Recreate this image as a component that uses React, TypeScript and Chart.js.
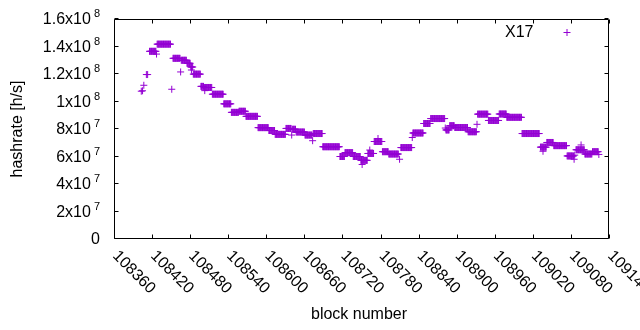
import React, { useEffect, useRef } from 'react';
import { Chart, registerables } from 'chart.js';

Chart.register(...registerables);

const PURPLE = '#9400d3';
const FONT = '"Liberation Sans", Arial, sans-serif';

// x axis tick values / labels
const xTickValues = [108360, 108420, 108480, 108540, 108600, 108660, 108720, 108780, 108840, 108900, 108960, 109020, 109080, 109140];
const xTickLabels = ['108360', '108420', '108480', '108540', '108600', '108660', '108720', '108780', '108840', '108900', '108960', '109020', '109080', '109140'];

// y axis tick values / labels (mantissa + superscript exponent)
const yTickValues = [0, 2e7, 4e7, 6e7, 8e7, 1e8, 1.2e8, 1.4e8, 1.6e8];
const yTickMantissa = ['0', '2x10', '4x10', '6x10', '8x10', '1x10', '1.2x10', '1.4x10', '1.6x10'];
const yTickExponent = ['', '7', '7', '7', '7', '8', '8', '8', '8'];

// runs of consecutive blocks with the same hashrate (values in units of 1e7 h/s)
const segStart = [108416, 108428, 108453, 108466, 108475, 108481, 108485, 108497, 108502, 108515, 108533, 108545, 108557, 108568, 108587, 108604, 108614, 108631, 108641, 108647, 108661, 108674, 108689, 108716, 108724, 108737, 108749, 108760, 108770, 108783, 108793, 108812, 108831, 108848, 108859, 108883, 108889, 108897, 108918, 108933, 108950, 108967, 108979, 109003, 109032, 109042, 109053, 109074, 109088, 109102, 109114];
const segEnd = [108426, 108449, 108464, 108474, 108480, 108484, 108496, 108501, 108514, 108532, 108544, 108556, 108567, 108586, 108603, 108613, 108630, 108639, 108646, 108660, 108672, 108688, 108715, 108723, 108736, 108748, 108759, 108769, 108782, 108792, 108808, 108829, 108847, 108858, 108881, 108888, 108896, 108917, 108931, 108949, 108966, 108978, 109002, 109030, 109041, 109052, 109073, 109084, 109101, 109113, 109123];
const segValue = [13.65, 14.17, 13.14, 13.0, 12.78, 12.51, 11.99, 11.1, 11.02, 10.53, 9.83, 9.21, 9.29, 8.92, 8.1, 7.89, 7.61, 8.04, 7.98, 7.78, 7.56, 7.67, 6.71, 6.0, 6.28, 6.0, 5.72, 6.22, 7.09, 6.35, 6.18, 6.65, 7.71, 8.4, 8.76, 7.93, 8.24, 8.11, 7.8, 9.08, 8.62, 9.09, 8.85, 7.67, 6.68, 7.02, 6.79, 6.04, 6.49, 6.18, 6.35];

// isolated blocks (values in units of 1e7 h/s)
const singleBlock = [108403, 108405, 108407, 108411, 108413, 108427, 108451, 108465, 108482, 108503, 108640, 108673, 108751, 108763, 108776, 108810, 108830, 108882, 108932, 109036, 109085, 109086, 109096, 109124];
const singleValue = [10.75, 10.78, 11.18, 11.96, 11.96, 13.45, 10.89, 12.15, 12.29, 10.79, 7.56, 7.15, 5.42, 6.47, 7.31, 5.8, 7.38, 8.07, 8.34, 6.38, 5.8, 6.1, 6.84, 6.15];

const seriesLabel = 'X17';
const xTitle = 'block number';
const yTitle = 'hashrate [h/s]';

export default function App() {
  const ref = useRef<HTMLCanvasElement>(null);

  useEffect(() => {
    if (!ref.current) return;
    const points: { x: number; y: number }[] = [];
    segStart.forEach((s, i) => {
      for (let b = s; b <= segEnd[i]; b++) points.push({ x: b, y: segValue[i] * 1e7 });
    });
    singleBlock.forEach((b, i) => points.push({ x: b, y: singleValue[i] * 1e7 }));

    const framePlugin = {
      id: 'gnuplotFrame',
      afterDraw(chart: any) {
        const ctx = chart.ctx as CanvasRenderingContext2D;
        const xs = chart.scales.x;
        const ys = chart.scales.y;
        const L = Math.round(chart.chartArea.left) + 0.5;
        const R = Math.round(chart.chartArea.right) - 0.5;
        const T = Math.round(chart.chartArea.top) + 0.5;
        const B = Math.round(chart.chartArea.bottom) - 0.5;
        ctx.save();
        ctx.strokeStyle = '#000';
        ctx.lineWidth = 1;
        ctx.beginPath();
        ctx.rect(L, T, R - L, B - T);
        ctx.stroke();
        const tl = 4;
        ctx.beginPath();
        xTickValues.forEach((v) => {
          const px = Math.round(xs.getPixelForValue(v)) + 0.5;
          ctx.moveTo(px, B); ctx.lineTo(px, B - tl);
          ctx.moveTo(px, T); ctx.lineTo(px, T + tl);
        });
        yTickValues.forEach((v) => {
          const py = Math.round(ys.getPixelForValue(v)) - 0.5;
          ctx.moveTo(L, py); ctx.lineTo(L + tl, py);
          ctx.moveTo(R, py); ctx.lineTo(R - tl, py);
        });
        ctx.stroke();

        ctx.fillStyle = '#000';
        // y tick labels
        yTickValues.forEach((v, i) => {
          const py = ys.getPixelForValue(v);
          const xr = 100;
          const exp = yTickExponent[i];
          let expW = 0;
          if (exp) {
            ctx.font = `11px ${FONT}`;
            expW = ctx.measureText(exp).width;
            ctx.textAlign = 'right';
            ctx.textBaseline = 'middle';
            ctx.fillText(exp, xr, py - 5);
            expW += 3;
          }
          ctx.font = `16px ${FONT}`;
          ctx.textAlign = 'right';
          ctx.textBaseline = 'middle';
          ctx.fillText(yTickMantissa[i], xr - expW, py + 1);
        });
        // x tick labels rotated
        xTickValues.forEach((v, i) => {
          const px = xs.getPixelForValue(v);
          ctx.save();
          ctx.translate(px + 1, B + 15);
          ctx.rotate(Math.PI / 4);
          ctx.font = `16px ${FONT}`;
          ctx.textAlign = 'left';
          ctx.textBaseline = 'middle';
          ctx.fillText(xTickLabels[i], 0, 0);
          ctx.restore();
        });
        // axis titles
        ctx.font = `16px ${FONT}`;
        ctx.textAlign = 'center';
        ctx.textBaseline = 'middle';
        ctx.fillText(xTitle, 359, 315);
        ctx.save();
        ctx.translate(18, 129);
        ctx.rotate(-Math.PI / 2);
        ctx.fillText(yTitle, 0, 0);
        ctx.restore();
        // legend
        ctx.textAlign = 'right';
        ctx.fillText(seriesLabel, 533.5, 32.5);
        ctx.strokeStyle = PURPLE;
        ctx.beginPath();
        ctx.moveTo(563.5, 32.5); ctx.lineTo(570.5, 32.5);
        ctx.moveTo(567, 29); ctx.lineTo(567, 36);
        ctx.stroke();
        ctx.restore();
      },
    };

    const chart = new Chart(ref.current, {
      type: 'scatter',
      data: {
        datasets: [
          {
            label: seriesLabel,
            data: points,
            pointStyle: 'cross',
            pointRadius: 3.5,
            pointHoverRadius: 3.5,
            borderColor: PURPLE,
            backgroundColor: PURPLE,
            borderWidth: 1,
          },
        ],
      },
      options: {
        responsive: false,
        animation: false,
        events: [],
        layout: { padding: { left: 114, right: 31, top: 19, bottom: 91 } },
        scales: {
          x: { type: 'linear', min: 108360, max: 109140, display: false },
          y: { type: 'linear', min: 0, max: 1.6e8, display: false },
        },
        plugins: { legend: { display: false }, tooltip: { enabled: false } },
      },
      plugins: [framePlugin],
    });
    return () => chart.destroy();
  }, []);

  return (
    <div style={{ position: 'fixed', left: 0, top: 0, width: 640, height: 330, background: '#fff' }}>
      <canvas ref={ref} width={640} height={330} style={{ width: 640, height: 330, display: 'block' }} />
    </div>
  );
}
